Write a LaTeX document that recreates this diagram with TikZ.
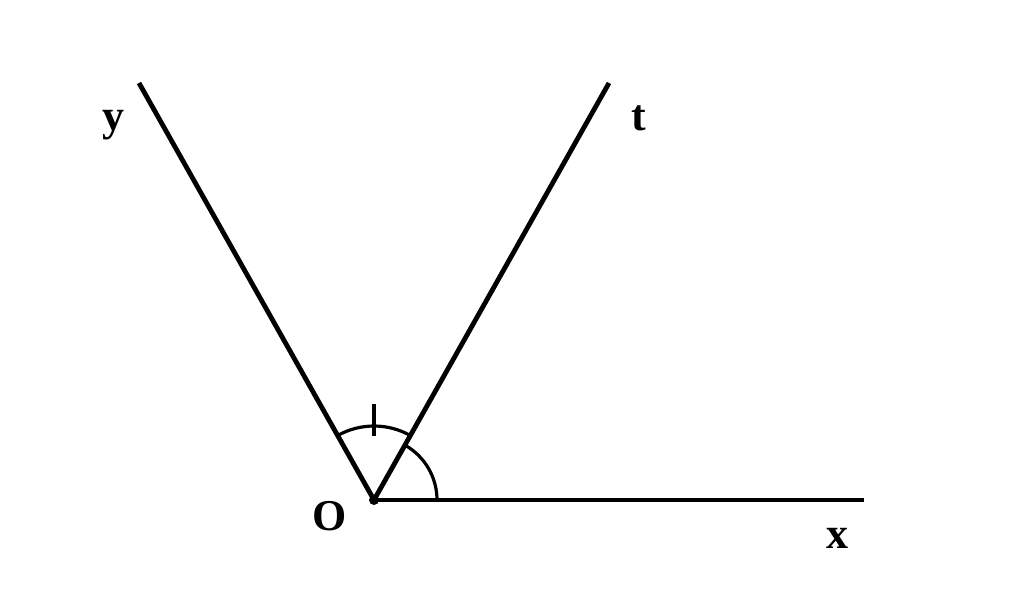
\documentclass[tikz,border=0pt]{standalone}
\usepackage{fontspec}
\setmainfont{Liberation Serif}
\begin{document}
\begin{tikzpicture}[x=0.75pt,y=-0.75pt,
  ray/.style={line width=3.6pt},
  arcline/.style={line width=2.4pt},
  tickline/.style={line width=3pt},
  lbl/.style={font=\fontsize{33}{34}\selectfont\bfseries, inner sep=0pt}]
\useasboundingbox (0,0) rectangle (1024,611);
\coordinate (O) at (374,500);
\coordinate (Y) at (139,83);
\coordinate (T) at (609,83);
\coordinate (X) at (864,500);
\draw[ray] (O) -- (Y);
\draw[ray] (O) -- (T);
\draw[ray] (O) -- (X);
\fill (O) circle (5);
% angle yOt
\draw[arcline] (O) ++(-119.4:74) arc[start angle=-119.4, end angle=-60.6, radius=74];
\draw[tickline] (O) ++(-90:64) -- ++(0,-32);
% angle tOx
\draw[arcline] (O) ++(-60.6:63) arc[start angle=-60.6, end angle=0, radius=63];
\node[lbl] (ly) at (113,125) {y};
\node[lbl] (lt) at (639,118) {t};
\node[lbl] (lo) at (330,516) {O};
\node[lbl] (lx) at (837,538) {x};
\end{tikzpicture}
\end{document}
